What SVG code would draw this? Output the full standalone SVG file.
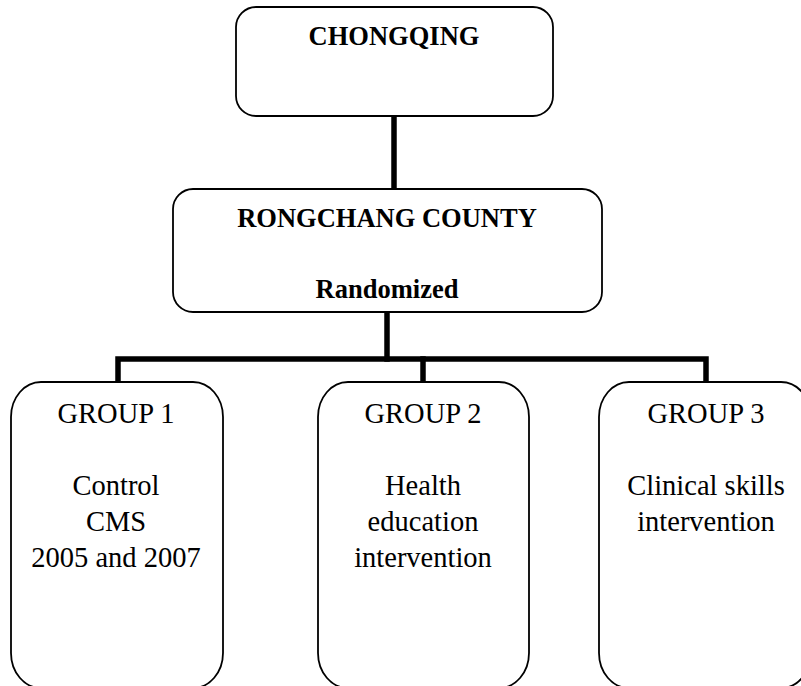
<svg xmlns="http://www.w3.org/2000/svg" width="801" height="686" viewBox="0 0 801 686">
<style>
.box{fill:#fff;stroke:#000;stroke-width:1.8}
.conn{fill:none;stroke:#000;stroke-width:5.5;stroke-linecap:square}
.b{font-family:'Liberation Serif','Times New Roman',Tinos,'DejaVu Serif',serif;font-weight:bold;font-size:26.5px;text-anchor:middle;fill:#000}
.t{font-family:'Liberation Serif','Times New Roman',Tinos,'DejaVu Serif',serif;font-size:28.5px;text-anchor:middle;fill:#000}
</style>
<rect width="801" height="686" fill="#fff"/>
<g id="connectors">
<line class="conn" x1="394" y1="117" x2="394" y2="188"/>
<line class="conn" x1="387" y1="313" x2="387" y2="359"/>
<polyline class="conn" points="118,381 118,359 706,359 706,381"/>
<line class="conn" x1="423" y1="359" x2="423" y2="381"/>
</g>
<g id="chongqing">
<rect class="box" x="236" y="7" width="317" height="109" rx="20" ry="20"/>
<text class="b" x="394" y="45">CHONGQING</text>
</g>
<g id="rongchang">
<rect class="box" x="173" y="189" width="429" height="123" rx="20" ry="20"/>
<text class="b" x="387" y="227">RONGCHANG COUNTY</text>
<text class="b" x="387" y="298">Randomized</text>
</g>
<g id="group1">
<rect class="box" x="11" y="382" width="212" height="306" rx="30" ry="35"/>
<text class="t" x="116" y="423">GROUP 1</text>
<text class="t" x="116" y="495">Control</text>
<text class="t" x="116" y="531">CMS</text>
<text class="t" x="116" y="567">2005 and 2007</text>
</g>
<g id="group2">
<rect class="box" x="318" y="382" width="211" height="306" rx="30" ry="35"/>
<text class="t" x="423" y="423">GROUP 2</text>
<text class="t" x="423" y="495">Health</text>
<text class="t" x="423" y="531">education</text>
<text class="t" x="423" y="567">intervention</text>
</g>
<g id="group3">
<rect class="box" x="599" y="382" width="212" height="306" rx="30" ry="35"/>
<text class="t" x="706" y="423">GROUP 3</text>
<text class="t" x="706" y="495">Clinical skills</text>
<text class="t" x="706" y="531">intervention</text>
</g>
</svg>
